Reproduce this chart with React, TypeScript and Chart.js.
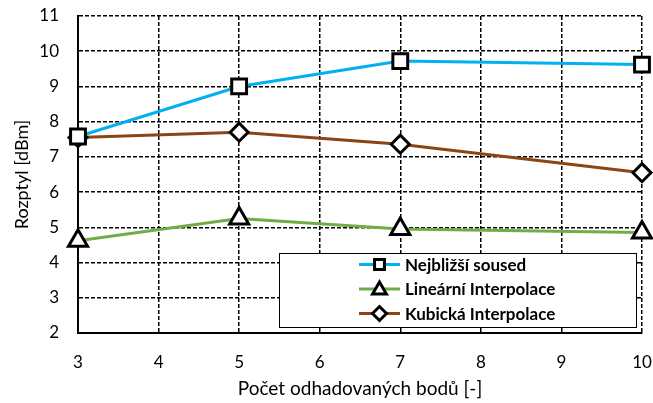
import React, { useEffect, useRef } from "react";
import { Chart, registerables } from "chart.js";

Chart.register(...registerables);

const xValues = [3, 5, 7, 10];
const nejblizsi = [7.58, 9.0, 9.72, 9.62];
const linearni = [4.62, 5.25, 4.95, 4.85];
const kubicka = [7.55, 7.7, 7.36, 6.55];
const seriesNames = ["Nejbližší soused", "Lineární Interpolace", "Kubická Interpolace"];
const seriesColors = ["#00B0F0", "#70AD47", "#8B4513"];
const pointStyles = ["rect", "triangle", "rectRot"];
const xTitle = "Počet odhadovaných bodů [-]";
const yTitle = "Rozptyl [dBm]";

const FONT = "Lato, 'Open Sans', sans-serif";

function drawMarker(ctx: CanvasRenderingContext2D, style: string, x: number, y: number, r: number) {
  ctx.beginPath();
  if (style === "rect") {
    const s = Math.SQRT1_2 * r;
    ctx.rect(x - s, y - s, 2 * s, 2 * s);
  } else if (style === "triangle") {
    const w = (r * Math.sqrt(3)) / 2;
    ctx.moveTo(x, y - r);
    ctx.lineTo(x + w, y + r / 2);
    ctx.lineTo(x - w, y + r / 2);
    ctx.closePath();
  } else {
    ctx.moveTo(x - r, y);
    ctx.lineTo(x, y - r);
    ctx.lineTo(x + r, y);
    ctx.lineTo(x, y + r);
    ctx.closePath();
  }
  ctx.fillStyle = "#ffffff";
  ctx.fill();
  ctx.lineWidth = 3;
  ctx.strokeStyle = "#000000";
  ctx.stroke();
}

const legendPlugin = {
  id: "boxLegend",
  afterDraw(chart: any) {
    const ctx: CanvasRenderingContext2D = chart.ctx;
    const area = chart.chartArea;
    const left = area.left + 201;
    const right = area.right - 6;
    const top = area.top + 237;
    const bottom = area.bottom - 6;
    ctx.save();
    ctx.fillStyle = "#ffffff";
    ctx.fillRect(left, top, right - left, bottom - top);
    ctx.lineWidth = 1;
    ctx.strokeStyle = "#000000";
    ctx.strokeRect(left + 0.5, top + 0.5, right - left, bottom - top);
    const rowH = 24.5;
    const radii = [7, 8, 7];
    for (let i = 0; i < 3; i++) {
      const cy = top + 11.5 + i * rowH;
      const lx0 = left + 80;
      const lx1 = left + 121;
      ctx.beginPath();
      ctx.moveTo(lx0, cy);
      ctx.lineTo(lx1, cy);
      ctx.lineWidth = 3;
      ctx.strokeStyle = seriesColors[i];
      ctx.stroke();
      drawMarker(ctx, pointStyles[i], (lx0 + lx1) / 2, cy + (i === 1 ? 1 : 0), radii[i]);
      ctx.fillStyle = "#000000";
      ctx.font = `bold 17px ${FONT}`;
      ctx.textBaseline = "middle";
      ctx.textAlign = "left";
      ctx.fillText(seriesNames[i], left + 126, cy + 1);
    }
    ctx.restore();
  },
};

export default function App() {
  const ref = useRef<HTMLCanvasElement>(null);
  useEffect(() => {
    document.body.style.margin = "0";
    const canvas = ref.current;
    if (!canvas) return;
    const allSeries = [nejblizsi, linearni, kubicka];
    const radii = [10.5, 11, 9];
    const chart = new Chart(canvas, {
      type: "line",
      data: {
        datasets: allSeries.map((vals, i) => ({
          label: seriesNames[i],
          data: vals.map((v, j) => ({ x: xValues[j], y: v })),
          borderColor: seriesColors[i],
          borderWidth: 3,
          pointStyle: pointStyles[i] as any,
          pointRadius: radii[i],
          pointBorderColor: "#000000",
          pointBackgroundColor: "#ffffff",
          pointBorderWidth: 3,
          tension: 0,
          fill: false,
          clip: false as any,
        })),
      },
      options: {
        responsive: false,
        animation: false,
        layout: { autoPadding: false, padding: { top: 16, right: 11, left: 0, bottom: 0 } },
        plugins: {
          legend: { display: false },
          tooltip: { enabled: false },
        },
        scales: {
          x: {
            type: "linear",
            min: 3,
            max: 10,
            ticks: { stepSize: 1, color: "#000", font: { family: FONT, size: 17 }, padding: 0 },
            grid: { color: "#000", lineWidth: 1.5, drawTicks: true, tickLength: 19, tickColor: "rgba(0,0,0,0)" },
            border: { color: "#000", width: 2, dash: [4, 2] },
            title: { display: true, text: xTitle, color: "#000", font: { family: FONT, size: 19 }, padding: { top: 0, bottom: 3 } },
            afterFit: (s: any) => { s.height = 70; },
          },
          y: {
            type: "linear",
            min: 2,
            max: 11,
            ticks: { stepSize: 1, color: "#000", font: { family: FONT, size: 17 }, padding: 0 },
            grid: { color: "#000", lineWidth: 1.5, drawTicks: true, tickLength: 19, tickColor: "rgba(0,0,0,0)" },
            border: { color: "#000", width: 2, dash: [4, 2] },
            title: { display: true, text: yTitle, color: "#000", font: { family: FONT, size: 18 }, padding: { top: 11, bottom: 0 } },
            afterFit: (s: any) => { s.width = 78; },
          },
        },
      },
      plugins: [legendPlugin],
    });
    return () => chart.destroy();
  }, []);
  return (
    <div style={{ width: 653, height: 403 }}>
      <canvas ref={ref} width={653} height={403} />
    </div>
  );
}
